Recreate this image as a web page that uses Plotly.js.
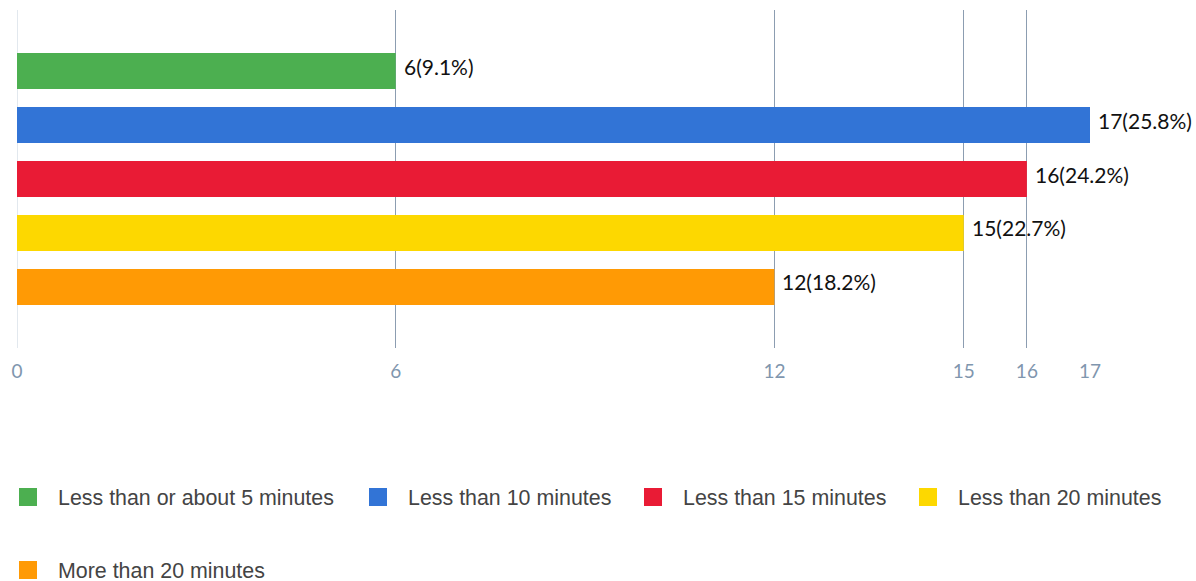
<!DOCTYPE html>
<html>
<head>
<meta charset="utf-8">
<script src="https://cdn.plot.ly/plotly-3.0.1.min.js"></script>
<style>html,body{margin:0;padding:0;background:#fff;}#chart{width:1196px;height:581px;}</style>
</head>
<body>
<div id="chart"></div>
<script>
const categories = ["Less than or about 5 minutes", "Less than 10 minutes", "Less than 15 minutes", "Less than 20 minutes", "More than 20 minutes"];
const counts = [6, 17, 16, 15, 12];
const percents = ["9.1", "25.8", "24.2", "22.7", "18.2"];
const colors = ["#4CAF50", "#3274D6", "#E91B35", "#FDD800", "#FF9A05"];
const tickValues = [0, 6, 12, 15, 16, 17];

const labels = counts.map((c, i) => c + "(" + percents[i] + "%)");

const traces = [{
  type: "bar",
  orientation: "h",
  y: categories,
  x: counts,
  marker: {color: colors},
  width: 0.667,
  showlegend: false,
  hoverinfo: "none"
}];

// value labels placed through the data scales
const annotations = counts.map((c, i) => ({
  x: c, y: categories[i], xref: "x", yref: "y",
  text: labels[i], showarrow: false,
  xanchor: "left", yanchor: "middle",
  xshift: 6, yshift: 5,
  font: {family: "Lato", size: 21, color: "#111"}
}));

// legend entries (one legend per entry, placed like the original)
const legendPos = [[19, 497], [369, 497], [644, 497], [919, 497], [19, 570]];
const legends = {};
categories.forEach((name, i) => {
  const key = i === 0 ? "legend" : "legend" + (i + 1);
  traces.push({
    type: "scatter",
    mode: "markers",
    x: [null], y: [null],
    xaxis: "x2", yaxis: "y2",
    name: name,
    legend: key,
    marker: {symbol: "square", size: 16, color: colors[i], line: {color: colors[i], width: 2}},
    showlegend: true,
    hoverinfo: "none"
  });
  legends[key] = {
    xref: "paper", yref: "container",
    x: (legendPos[i][0] - 21 - 17) / 1073,
    y: 1 - legendPos[i][1] / 581,
    xanchor: "left", yanchor: "middle",
    itemwidth: 50,
    bgcolor: "rgba(0,0,0,0)",
    borderwidth: 0,
    font: {family: "Liberation Sans, Arial", size: 21.4, color: "#444"}
  };
});

const layout = Object.assign({
  width: 1196, height: 581,
  margin: {l: 17, r: 106, t: 10, b: 233, autoexpand: false},
  paper_bgcolor: "#fff",
  plot_bgcolor: "#fff",
  barmode: "overlay",
  xaxis: {
    range: [0, 17],
    tickmode: "array",
    tickvals: tickValues,
    showgrid: true,
    gridcolor: "#8C9DB1",
    gridwidth: 1,
    zeroline: true,
    zerolinecolor: "#E2E8EE",
    zerolinewidth: 1,
    showline: false,
    ticks: "",
    ticklabelstandoff: 10,
    tickfont: {family: "Lato", size: 19, color: "#7F96AE"},
    fixedrange: true
  },
  yaxis: {
    type: "category",
    range: [5.13, -1.13],
    showgrid: false,
    zeroline: false,
    showline: false,
    showticklabels: false,
    ticks: "",
    fixedrange: true
  },
  xaxis2: {visible: false, overlaying: "x", range: [0, 1], fixedrange: true},
  yaxis2: {visible: false, overlaying: "y", range: [0, 1], fixedrange: true},
  annotations: annotations,
  showlegend: true
}, legends);

Plotly.newPlot("chart", traces, layout, {displayModeBar: false, staticPlot: true});
</script>
</body>
</html>
